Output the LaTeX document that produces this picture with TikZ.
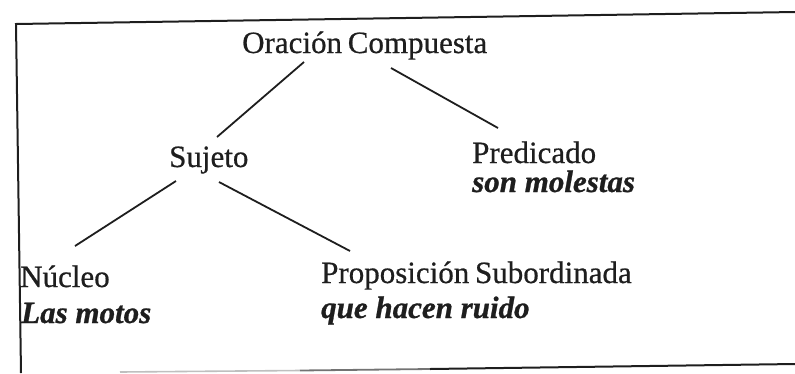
\documentclass[tikz,border=0pt]{standalone}
\usepackage{fontspec}
\setmainfont{Liberation Serif}
\newfontfamily\regfont{Liberation Serif}[RawFeature={embolden=0.6}]
\newfontfamily\exfont{Liberation Serif Bold Italic}[RawFeature={embolden=0.8}]
\definecolor{ink}{HTML}{1E1E1E}
\begin{document}
\begin{tikzpicture}[x=1pt,y=-1pt,
  lbl/.style={inner sep=0pt, anchor=base west, text=ink, font=\regfont\fontsize{31}{31}\selectfont},
  ex/.style={inner sep=0pt, anchor=base west, text=ink, font=\exfont\fontsize{31}{31}\selectfont},
  edge/.style={draw=ink, line width=1.8pt},
  frame/.style={draw=ink, line width=2pt}]
\useasboundingbox (0,0) rectangle (795,373);
% frame
\draw[frame] (21,373) -- (16,24) -- (795,12);
\draw[draw=black!25, line width=1.6pt] (120,372) -- (300,370.5);
\draw[draw=black!55, line width=1.8pt] (300,370.5) -- (430,369);
\draw[frame] (430,369) -- (795,364);
% nodes
\node[lbl] (oc) at (242,53) {Oración\hspace{-2pt} Compuesta};
\node[lbl] (suj) at (169,167) {Sujeto};
\node[lbl] (pred) at (472,163) {Predicado};
\node[ex] (predx) at (472,192) {son molestas};
\node[lbl] (nuc) at (20,287) {Núcleo};
\node[ex] (nucx) at (21,323) {Las motos};
\node[lbl] (prop) at (321,283) {Proposición\hspace{-2pt} Subordinada};
\node[ex] (propx) at (321,318) {que hacen ruido};
% connector ends
\coordinate (ocL) at (304,62);
\coordinate (ocR) at (391,68);
\coordinate (sujT) at (217,137);
\coordinate (predT) at (498,128);
\coordinate (sujL) at (176,181);
\coordinate (sujR) at (219,182);
\coordinate (nucT) at (75,246);
\coordinate (propT) at (350,251);
\draw[edge] (ocL) -- (sujT);
\draw[edge] (ocR) -- (predT);
\draw[edge] (sujL) -- (nucT);
\draw[edge] (sujR) -- (propT);
\end{tikzpicture}
\end{document}
